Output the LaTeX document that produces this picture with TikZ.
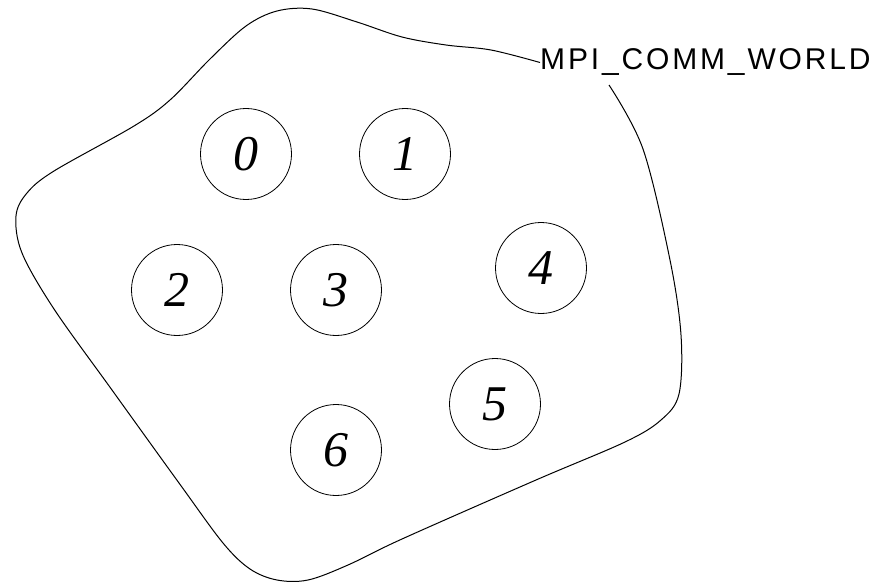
\documentclass[tikz,border=0pt]{standalone}
\usepackage{fontspec}
\newfontfamily\lblfont[LetterSpace=9.5]{Liberation Sans}
\newfontfamily\numfont{Liberation Serif}
\begin{document}
\begin{tikzpicture}[x=1pt,y=-1pt,
  proc/.style={draw,circle,minimum size=91pt,inner sep=0pt,line width=0.8pt,
    font=\numfont\itshape\fontsize{50}{52}\selectfont},
  blob/.style={draw,line width=1pt}]
\useasboundingbox (0,0) rectangle (876,583);
\node[anchor=base west,inner sep=0pt,font=\lblfont\fontsize{30}{32}\selectfont] (lbl) at (540,70) {MPI\_COMM\_WORLD};
\node[proc] (p0) at (246,154) {0};
\node[proc] (p1) at (405,154) {1};
\node[proc] (p2) at (177,290) {2};
\node[proc] (p3) at (336,290) {3};
\node[proc] (p4) at (541,268) {4};
\node[proc] (p5) at (495,404) {5};
\node[proc] (p6) at (336,450) {6};
\coordinate (e) at (609,85);
\draw[blob] plot[smooth,tension=0.55] coordinates {
 (lbl.west) (491,50) (446,45) (402,37) (357,22) (312,9) (277,11) (246,26) (210,59)
 (170,100) (134,126) (54,171) (27,193) (16,216) (22,253) (54,309) (112,390)
 (179,483) (223,543) (250,569) (277,580) (308,580) (348,565) (402,539) (536,480)
 (625,442) (661,420) (679,394) (681,335) (670,260) (643,149) (e)};
\end{tikzpicture}
\end{document}
